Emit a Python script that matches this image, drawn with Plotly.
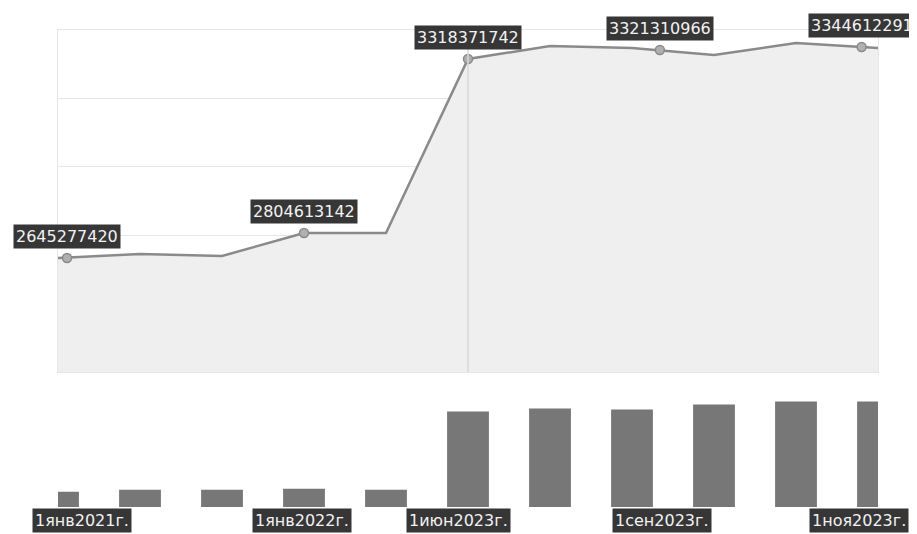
import plotly.graph_objects as go

# ---- données ----
idx = list(range(11))
ligne = [2645.3e6, 2658.5e6, 2651.9e6, 2728.1e6, 2728.1e6, 3304.8e6,
         3347.9e6, 3341.2e6, 3318.1e6, 3357.8e6, 3341.2e6]
volumes = [15, 17, 17, 18, 17, 94, 97, 96, 101, 104, 104]

# points marqués sur la courbe + étiquettes
pts_x = [0.11, 3.0, 5.0, 7.34, 9.8]
pts_y = [2645.3e6, 2728.1e6, 3304.8e6, 3334.6e6, 3344.6e6]
pts_txt = ["2645277420", "2804613142", "3318371742", "3321310966", "3344612291"]

dates_x = [0.29, 2.98, 4.88, 7.36, 9.77]
dates_txt = ["1янв2021г.", "1янв2022г.", "1июн2023г.", "1сен2023г.", "1ноя2023г."]

y_bas, y_haut = 2267.5e6, 3400.9e6

fig = go.Figure()

fig.add_trace(go.Scatter(
    x=idx, y=ligne, mode="lines",
    line=dict(color="#8a8a8a", width=2.5),
    fill="tozeroy", fillcolor="#efefef",
    xaxis="x", yaxis="y", hoverinfo="skip"
))
fig.add_trace(go.Scatter(
    x=pts_x, y=pts_y, mode="markers",
    marker=dict(size=9, color="#b0b0b0", line=dict(color="#8a8a8a", width=1.5)),
    xaxis="x", yaxis="y", hoverinfo="skip"
))
fig.add_trace(go.Bar(
    x=idx, y=volumes, width=0.51,
    marker=dict(color="#777777", line=dict(width=0)),
    xaxis="x2", yaxis="y2", hoverinfo="skip"
))

# étiquettes de valeurs
for x, y, t in zip(pts_x, pts_y, pts_txt):
    fig.add_annotation(
        x=x, y=y, xref="x", yref="y", text=t, showarrow=False,
        yanchor="bottom", yshift=9,
        bgcolor="#363636", borderpad=2,
        font=dict(family="DejaVu Sans", size=16, color="#f2f2f2")
    )

# étiquettes de dates
for x, t in zip(dates_x, dates_txt):
    fig.add_annotation(
        x=x, y=-0.055, xref="x2", yref="paper", text=t, showarrow=False,
        yanchor="bottom",
        bgcolor="#363636", borderpad=2,
        font=dict(family="DejaVu Sans", size=16, color="#f2f2f2")
    )

# ligne du curseur
fig.add_shape(type="line", x0=5, x1=5, y0=0, y1=1, xref="x", yref="y domain",
              line=dict(color="#d8d8d8", width=1.5))

# la page ajoute une marge de 8 px : figure réduite d'autant
fig.update_layout(
    width=909, height=526,
    margin=dict(l=50, r=39, t=22, b=27, autoexpand=False),
    paper_bgcolor="white", plot_bgcolor="white",
    showlegend=False,
    xaxis=dict(domain=[0, 1], range=[0, 10], showticklabels=False, showgrid=False,
               zeroline=False, anchor="y", showline=True, mirror=True,
               linecolor="#e6e6e6", linewidth=1),
    yaxis=dict(domain=[0.283, 1], range=[y_bas, y_haut], showticklabels=False,
               tick0=y_bas, dtick=(y_haut - y_bas) / 5, gridcolor="#e6e6e6",
               zeroline=False, showline=True, mirror=True,
               linecolor="#e6e6e6", linewidth=1),
    xaxis2=dict(domain=[0, 1], range=[0, 10], showticklabels=False, showgrid=False,
                zeroline=False, anchor="y2"),
    yaxis2=dict(domain=[0, 0.266], range=[0, 125], showticklabels=False,
                showgrid=False, zeroline=False, anchor="x2"),
)

fig.write_html("out.html")
